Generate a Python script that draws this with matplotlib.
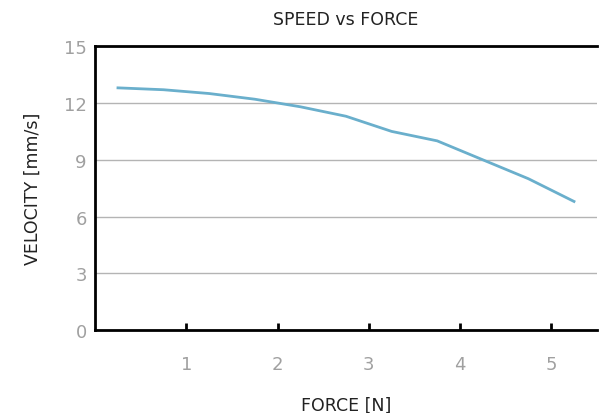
import matplotlib.pyplot as plt

force = [0.25, 0.75, 1.25, 1.75, 2.25, 2.75, 3.25, 3.75, 4.25, 4.75, 5.25]
velocity = [12.8, 12.7, 12.5, 12.2, 11.8, 11.3, 10.5, 10.0, 9.0, 8.0, 6.8]

x_ticks = [1, 2, 3, 4, 5]
y_ticks = [0, 3, 6, 9, 12, 15]

fig = plt.figure(figsize=(6.14, 4.14), dpi=100)
ax = fig.add_axes([0.155, 0.2, 0.817, 0.686])

ax.plot(force, velocity, color="#6aafcc", linewidth=2)

ax.set_xlim(0, 5.5)
ax.set_ylim(0, 15)
ax.set_xticks(x_ticks)
ax.set_yticks(y_ticks)

ax.grid(axis="y", color="#b4b4b4", linewidth=1)
ax.set_axisbelow(True)

ax.spines["right"].set_visible(False)
for side in ["left", "bottom", "top"]:
    ax.spines[side].set_linewidth(2)
    ax.spines[side].set_color("black")

ax.tick_params(axis="x", direction="in", length=5, width=2, color="black",
               labelsize=13, labelcolor="#a0a0a0", pad=18)
ax.tick_params(axis="y", length=0, labelsize=13, labelcolor="#a0a0a0", pad=6)

ax.set_title("SPEED vs FORCE", fontsize=12.5, color="#222222", pad=16)
ax.set_xlabel("FORCE [N]", fontsize=12.5, color="#222222", labelpad=16)
ax.set_ylabel("VELOCITY [mm/s]", fontsize=12.5, color="#222222", labelpad=16)

fig.savefig("out.png", dpi=100)
